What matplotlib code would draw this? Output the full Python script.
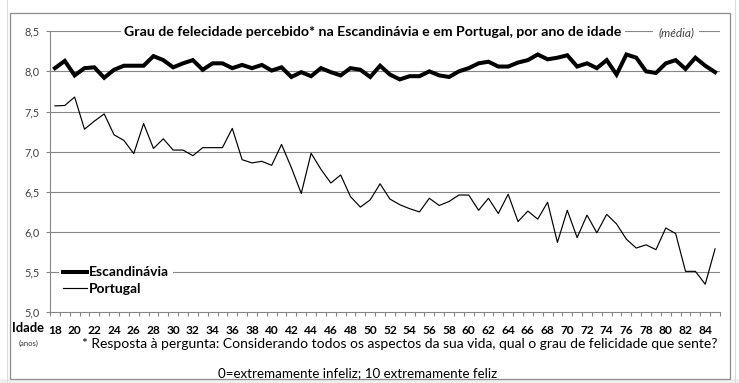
import matplotlib
matplotlib.use("Agg")
import matplotlib.pyplot as plt
from matplotlib.lines import Line2D
from matplotlib.patches import Rectangle
import numpy as np

plt.rcParams['font.family'] = ['Lato', 'DejaVu Sans']

# ---- data ----
ages = list(range(18, 86))
escandinavia = [8.04, 8.13, 7.95, 8.04, 8.05, 7.92, 8.02, 8.07, 8.07, 8.07,
                8.19, 8.14, 8.05, 8.10, 8.14, 8.02, 8.10, 8.10, 8.04, 8.08,
                8.04, 8.08, 8.01, 8.05, 7.93, 7.99, 7.94, 8.04, 7.99, 7.95,
                8.04, 8.02, 7.93, 8.07, 7.96, 7.90, 7.94, 7.94, 8.00, 7.95,
                7.93, 8.00, 8.04, 8.10, 8.12, 8.06, 8.06, 8.11, 8.14, 8.21,
                8.15, 8.17, 8.20, 8.06, 8.10, 8.04, 8.14, 7.96, 8.21, 8.17,
                8.00, 7.98, 8.10, 8.14, 8.03, 8.17, 8.07, 7.99]
portugal = [7.57, 7.575, 7.68, 7.28, 7.38, 7.47, 7.21, 7.14, 6.975, 7.35,
            7.04, 7.16, 7.02, 7.02, 6.95, 7.05, 7.05, 7.05, 7.29, 6.90,
            6.86, 6.88, 6.83, 7.09, 6.80, 6.48, 6.98, 6.78, 6.61, 6.71,
            6.44, 6.31, 6.40, 6.60, 6.41, 6.34, 6.29, 6.25, 6.42, 6.33,
            6.38, 6.46, 6.46, 6.27, 6.42, 6.23, 6.47, 6.13, 6.26, 6.16,
            6.37, 5.87, 6.27, 5.93, 6.21, 5.99, 6.22, 6.10, 5.91, 5.80,
            5.84, 5.78, 6.05, 5.98, 5.51, 5.51, 5.35, 5.79]
y_ticks = [5.0, 5.5, 6.0, 6.5, 7.0, 7.5, 8.0, 8.5]
series_names = ["Escandinávia", "Portugal"]
title = "Grau de felecidade percebido* na Escandinávia e em Portugal, por ano de idade"
footnote1 = "* Resposta à pergunta: Considerando todos os aspectos da sua vida, qual o grau de felicidade que sente?"
footnote2 = "0=extremamente infeliz; 10 extremamente feliz"

W, H = 739, 383
fig = plt.figure(figsize=(W / 100, H / 100), dpi=100)
fig.patch.set_facecolor('white')

def fx(px):
    return px / W

def fy(py):
    return 1 - py / H

# spreadsheet background hints
fig.add_artist(Line2D([fx(7), fx(7)], [0, 1], color='#dcdcdc', lw=0.8))
fig.add_artist(Line2D([fx(735), fx(735)], [0, 1], color='#dcdcdc', lw=0.8))
fig.add_artist(Rectangle((0, 0), 1, fy(379), transform=fig.transFigure,
                         facecolor='#efefef', edgecolor='none', zorder=0))
# chart border
fig.add_artist(Rectangle((fx(9.5), fy(379)), fx(730) - fx(9.5), fy(13) - fy(379),
                         transform=fig.transFigure, facecolor='none',
                         edgecolor='#8c8c8c', lw=0.9, zorder=1))

left, right, top, bottom = 50, 720, 31.2, 312.3
ax = fig.add_axes([fx(left), fy(bottom), fx(right) - fx(left), fy(top) - fy(bottom)])
ax.set_facecolor('none')

x = np.arange(len(ages))
grid_c = '#868686'
for v in y_ticks[1:]:
    ax.axhline(v, color=grid_c, lw=0.8, zorder=0.5)

ax.plot(x, escandinavia, color='black', lw=2.9, solid_joinstyle='miter', zorder=3,
        label=series_names[0])
ax.plot(x, portugal, color='black', lw=0.85, zorder=3, label=series_names[1])

ax.set_xlim(-0.5, len(ages) - 0.5)
ax.set_ylim(5.0, 8.5)
ax.set_yticks(y_ticks)
ax.set_yticklabels([f"{v:.1f}".replace('.', ',') for v in y_ticks])
ax.tick_params(axis='y', direction='out', length=2.6, width=0.8, color=grid_c,
               labelsize=7.8, labelcolor='#404040', pad=5)

ax.set_xticks(x[::2])
ax.set_xticklabels([str(a) for a in ages[::2]], fontweight='bold')
ax.set_xticks(np.arange(-0.5, len(ages), 1.0), minor=True)
ax.tick_params(axis='x', which='major', length=0, labelsize=8.6, pad=9.5)
ax.tick_params(axis='x', which='minor', direction='out', length=3.2, width=0.8, color=grid_c)

for s in ['top', 'right']:
    ax.spines[s].set_visible(False)
for s in ['left', 'bottom']:
    ax.spines[s].set_color(grid_c)
    ax.spines[s].set_linewidth(0.8)

leg = ax.legend(loc='center left', bbox_to_anchor=(fx(59), fy(280.5)),
                bbox_transform=fig.transFigure, frameon=True, fancybox=False,
                framealpha=1, edgecolor='none', facecolor='white',
                prop={'weight': 'bold', 'size': 10}, handlelength=1.7,
                handletextpad=0.15, labelspacing=0.3, borderpad=0.3,
                borderaxespad=0)

# texts
t_title = fig.text(fx(373), fy(32), title, ha='center', va='center', fontsize=9.5,
                   fontweight='bold', color='black', zorder=5,
                   bbox=dict(facecolor='white', edgecolor='none', pad=2.5))
t_media = fig.text(fx(676), fy(32.5), "(média)", ha='center', va='center', fontsize=8.5,
                   style='italic', color='#404040', zorder=5,
                   bbox=dict(facecolor='white', edgecolor='none', pad=3.5))
t_idade = fig.text(fx(44), fy(327.5), "Idade", ha='right', va='center',
                   fontsize=9.3, fontweight='bold', color='black')
t_anos = fig.text(fx(29), fy(343), "(anos)", ha='center', va='center', fontsize=5.5,
                  color='#333333')
t_f1 = fig.text(fx(400), fy(344.5), footnote1, ha='center', va='center',
                fontsize=9, color='black')
t_f2 = fig.text(fx(358), fy(373.5), footnote2, ha='center', va='center',
                fontsize=9, color='black')

# fit text widths to the reference layout
renderer = fig.canvas.get_renderer()
for t, target in [(t_title, 498), (t_f1, 635), (t_f2, 280)]:
    w = t.get_window_extent(renderer).width
    t.set_fontsize(t.get_fontsize() * target / w)

fig.savefig("out.png", dpi=100, facecolor='white')
